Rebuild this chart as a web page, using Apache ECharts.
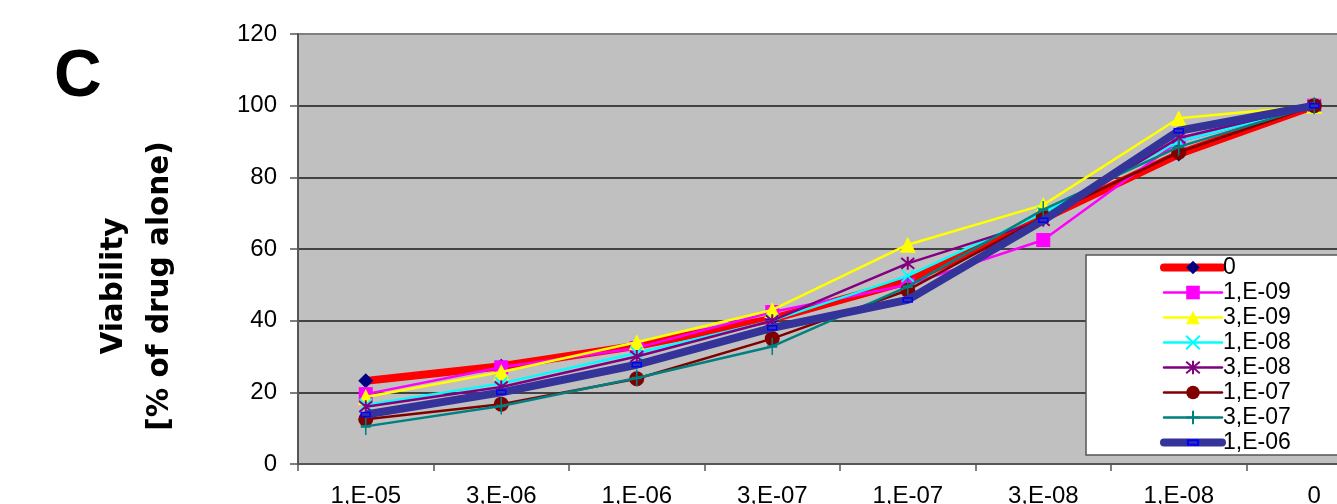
<!DOCTYPE html>
<html><head><meta charset="utf-8">
<script src="https://cdn.jsdelivr.net/npm/echarts@6/dist/echarts.min.js"></script>
<style>html,body{margin:0;padding:0;background:#fff;overflow:hidden;width:1337px;height:504px}#c{width:1420px;height:600px}</style>
</head><body><div id="c"></div>
<script>
const categories = ['1,E-05','3,E-06','1,E-06','3,E-07','1,E-07','3,E-08','1,E-08','0'];
const seriesNames = ['0','1,E-09','3,E-09','1,E-08','3,E-08','1,E-07','3,E-07','1,E-06'];
const s_0     = [23.2, 27.3, 33.0, 40.5, 51.0, 68.5, 86.5, 100];
const s_1e09  = [19.5, 27.0, 32.4, 42.4, 50.0, 62.5, 90.0, 100];
const s_3e09  = [18.7, 25.7, 34.0, 43.0, 61.2, 72.3, 96.5, 100];
const s_1e08  = [16.5, 22.5, 31.0, 40.0, 52.5, 70.0, 90.0, 100];
const s_3e08  = [16.0, 21.5, 30.0, 40.0, 56.0, 68.0, 91.0, 100];
const s_1e07  = [12.5, 16.7, 23.8, 35.0, 48.5, 69.0, 87.0, 100];
const s_3e07  = [10.5, 16.2, 24.0, 32.8, 49.5, 71.0, 88.5, 100];
const s_1e06  = [13.8, 20.0, 27.7, 38.0, 45.8, 68.0, 93.0, 100];
const yTicks = [0,20,40,60,80,100,120];

const values = [s_0, s_1e09, s_3e09, s_1e08, s_3e08, s_1e07, s_3e07, s_1e06];
const styles = [
  {line:'#FF0000', w:8, sym:'diamond', size:15, fill:'#000080', border:'#000080', bw:0},
  {line:'#FF00FF', w:2.5, sym:'rect', size:14, fill:'#FF00FF', border:'#FF00FF', bw:0},
  {line:'#FFFF00', w:2.5, sym:'triangle', size:16, fill:'#FFFF00', border:'#FFFF00', bw:0},
  {line:'#00FFFF', w:2.5, sym:'path://M0,0L10,10M10,0L0,10', size:12, fill:'none', border:'#00FFFF', bw:2},
  {line:'#800080', w:2.5, sym:'path://M0,0L10,10M10,0L0,10M5,-1L5,11', size:13, fill:'none', border:'#800080', bw:2},
  {line:'#800000', w:2.5, sym:'circle', size:15, fill:'#800000', border:'#800000', bw:0},
  {line:'#008080', w:2.5, sym:'path://M5,0L5,12M1,6L9,6', size:[10,17], fill:'none', border:'#008080', bw:2},
  {line:'#333399', w:8, sym:'path://M0,0M12,12M1.5,4L10.5,4L10.5,8L1.5,8Z', size:12, fill:'#333399', border:'#0000FF', bw:1.5}
];

const series = values.map((v,i)=>({
  name: seriesNames[i], type:'line', data: v,
  symbol: styles[i].sym, symbolSize: styles[i].size, showAllSymbol:true,
  lineStyle:{color:styles[i].line, width:styles[i].w},
  itemStyle:{color:styles[i].fill, borderColor:styles[i].border, borderWidth:styles[i].bw},
  emphasis:{disabled:true}, animation:false, z: 2+i
}));

const chart = echarts.init(document.getElementById('c'), null, {renderer:'canvas'});
chart.setOption({
  animation:false,
  backgroundColor:'#fff',
  grid:{left:298, top:34, width:1084, height:430, show:true, outerBoundsMode:'none', containLabel:false,
        backgroundColor:'#C0C0C0', borderColor:'#808080', borderWidth:2},
  xAxis:{type:'category', data:categories, boundaryGap:true,
    axisLine:{lineStyle:{color:'#555', width:2}},
    axisTick:{show:true, length:7, lineStyle:{color:'#555', width:1.5}},
    axisLabel:{color:'#000', fontFamily:'Liberation Sans, Arial', fontSize:24, margin:20},
    splitLine:{show:false}},
  yAxis:{type:'value', min:0, max:120, interval:20,
    axisLine:{show:true, lineStyle:{color:'#555', width:2}},
    axisTick:{show:true, length:8, lineStyle:{color:'#555', width:1.5}},
    axisLabel:{color:'#000', fontFamily:'Liberation Sans, Arial', fontSize:24, margin:21},
    splitLine:{show:true, showMaxLine:false, showMinLine:false, lineStyle:{color:'#1a1a1a', width:1.5}}},
  legend:{orient:'vertical', left:1086, top:255, itemWidth:58, itemHeight:17, itemGap:2,
    backgroundColor:'#fff', borderColor:'#555', borderWidth:1.5, padding:[1,110,1,74],
    textStyle:{color:'#000', fontFamily:'Liberation Sans, Arial', fontSize:23, padding:[0,0,0,-4]},
    data: seriesNames.map((n,i)=>({name:n, lineStyle:{width:styles[i].w, color:styles[i].line, cap:'round'}})),
    selectedMode:false},
  graphic:[
    {type:'text', left:54, top:45, style:{text:'C', font:'bold 66px Liberation Sans, Arial', fill:'#000'}},
    {type:'text', x:137, y:286, rotation:Math.PI/2, style:{text:'Viability\n[% of drug alone)', font:'bold 29.5px DejaVu Sans, Verdana', fill:'#000', align:'center', verticalAlign:'middle', lineHeight:46}}
  ],
  series: series
});
</script></body></html>
